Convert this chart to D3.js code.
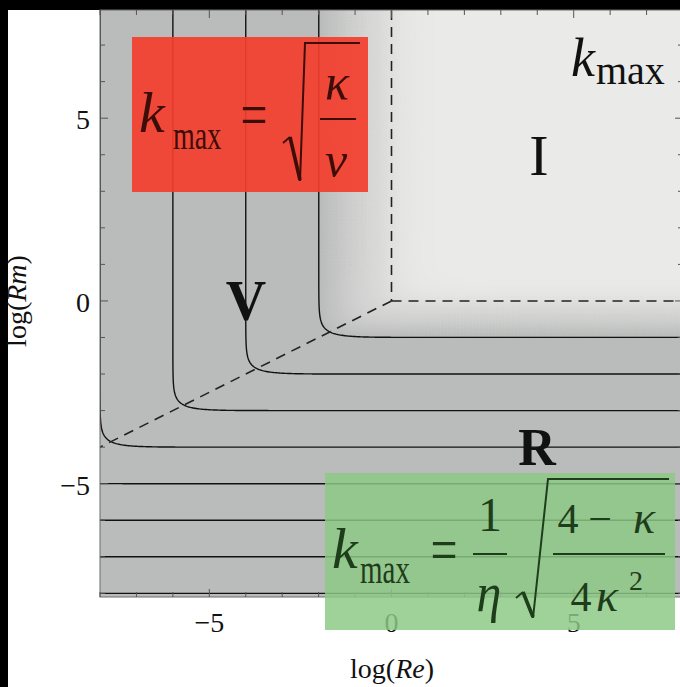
<!DOCTYPE html>
<html>
<head>
<meta charset="utf-8">
<script src="https://cdn.jsdelivr.net/npm/d3@7"></script>
<style>
  body { margin: 0; background: #fff; }
  svg { display: block; }
  text { font-family: "Liberation Serif", "Times New Roman", Times, serif; }
</style>
</head>
<body>
<script>
// Axis ranges (log10 of Reynolds and magnetic Reynolds numbers)
const logReDomain = [-8, 8];
const logRmDomain = [-8.1, 7.96];
const xTickValues = [-5, 0, 5];
const yTickValues = [-5, 0, 5];
const minorTickValuesX = d3.range(-8, 9);
const minorTickValuesY = d3.range(-8, 8);

// Contour levels of log10(k_max)
const contourLevels = [-1, -2, -3, -4, -5, -6, -7, -8];

// Shading of log10(k_max): stops and grey levels
const shadeStops = [-1.0, -0.76, -0.54, -0.25, -0.12, 0];
const shadeColors = ["#babcbb", "#c5c6c5", "#cfd0cf", "#dadad9", "#e2e2e0", "#eaeae8"];

// Regime boundaries: Re = 1, Rm = 1 and Rm^2 = Re
const boundaryLines = [
  { from: [0, 7.96], to: [0, 0] },
  { from: [0, 0], to: [8, 0] },
  { from: [0, 0], to: [-8, -4] }
];

const W = 680, H = 687;
const plot = { left: 100, right: 683, top: 10, bottom: 597 };

const x = d3.scaleLinear().domain(logReDomain).range([plot.left, plot.right]);
const y = d3.scaleLinear().domain(logRmDomain).range([plot.bottom, plot.top]);

// k_max across the three regimes: viscous (k ~ Re^1/2), resistive (k ~ Rm), ideal (k ~ 1)
function logK(lre, lrm) {
  return -0.5 * Math.log10(Math.pow(10, -lre) + Math.pow(10, -2 * lrm) + 1);
}

const svg = d3.select("body").append("svg").attr("width", W).attr("height", H);
svg.append("rect").attr("width", W).attr("height", H).attr("fill", "#fff");
svg.append("rect").attr("x", 0).attr("y", 0).attr("width", W).attr("height", 10).attr("fill", "#000");
svg.append("rect").attr("x", 0).attr("y", 0).attr("width", 8).attr("height", H).attr("fill", "#000");

svg.append("clipPath").attr("id", "plotClip")
  .append("rect")
  .attr("x", plot.left).attr("y", plot.top)
  .attr("width", plot.right - plot.left).attr("height", plot.bottom - plot.top);

// Sample the field on a grid wider than the plot so that contour edges fall outside the clip
const step = 0.04, g0 = -9.2, g1 = 9.2;
const n = Math.round((g1 - g0) / step) + 1;
const values = new Float64Array(n * n);
for (let j = 0; j < n; j++) {
  for (let i = 0; i < n; i++) {
    values[j * n + i] = logK(g0 + i * step, g0 + j * step);
  }
}
const toPixels = d3.geoTransform({
  point(px, py) {
    this.stream.point(x(g0 + (px - 0.5) * step), y(g0 + (py - 0.5) * step));
  }
});
const path = d3.geoPath(toPixels);

const shade = d3.scaleLinear().domain(shadeStops).range(shadeColors).clamp(true);
const fillThresholds = d3.range(-1.02, 0.001, 0.015);

const body = svg.append("g").attr("clip-path", "url(#plotClip)");
body.append("rect")
  .attr("x", plot.left).attr("y", plot.top)
  .attr("width", plot.right - plot.left).attr("height", plot.bottom - plot.top)
  .attr("fill", shadeColors[0]);

const bands = d3.contours().size([n, n]).thresholds(fillThresholds)(values);
body.append("g").selectAll("path").data(bands).join("path")
  .attr("d", path)
  .attr("fill", d => shade(d.value + 0.0075))
  .attr("stroke", d => shade(d.value + 0.0075))
  .attr("stroke-width", 0.6);

// Iso-lines of k_max
const isolines = d3.contours().size([n, n]).thresholds(contourLevels)(values);
body.append("g").selectAll("path").data(isolines).join("path")
  .attr("d", path)
  .attr("fill", "none")
  .attr("stroke", "#111")
  .attr("stroke-width", 1.4);

// Regime boundaries
body.append("g").selectAll("line").data(boundaryLines).join("line")
  .attr("x1", d => x(d.from[0])).attr("y1", d => y(d.from[1]))
  .attr("x2", d => x(d.to[0])).attr("y2", d => y(d.to[1]))
  .attr("stroke", "#222")
  .attr("stroke-width", 1.6)
  .attr("stroke-dasharray", "10,7");

// Frame and inward ticks
svg.append("rect")
  .attr("x", plot.left).attr("y", plot.top)
  .attr("width", plot.right - plot.left).attr("height", plot.bottom - plot.top)
  .attr("fill", "none").attr("stroke", "#6a6a6a").attr("stroke-width", 1);

const tickLen = v => (v % 5 === 0 ? 8 : 5);
const ticks = svg.append("g").attr("stroke", "#555").attr("stroke-width", 1);
ticks.selectAll(".tb").data(minorTickValuesX).join("line")
  .attr("x1", d => x(d)).attr("x2", d => x(d))
  .attr("y1", plot.bottom).attr("y2", d => plot.bottom - tickLen(d));
ticks.selectAll(".tt").data(minorTickValuesX).join("line")
  .attr("x1", d => x(d)).attr("x2", d => x(d))
  .attr("y1", plot.top).attr("y2", d => plot.top + tickLen(d));
ticks.selectAll(".tl").data(minorTickValuesY).join("line")
  .attr("y1", d => y(d)).attr("y2", d => y(d))
  .attr("x1", plot.left).attr("x2", d => plot.left + tickLen(d));
ticks.selectAll(".tr").data(minorTickValuesY).join("line")
  .attr("y1", d => y(d)).attr("y2", d => y(d))
  .attr("x1", plot.right).attr("x2", d => plot.right - tickLen(d));

const fmt = v => (v < 0 ? "\u2212" + Math.abs(v) : String(v));
svg.append("g").selectAll("text").data(yTickValues).join("text")
  .attr("x", 90).attr("y", d => y(d) + 11)
  .attr("text-anchor", "end").attr("font-size", 28).attr("fill", "#111")
  .text(fmt);
svg.append("g").selectAll("text").data(xTickValues).join("text")
  .attr("x", d => x(d)).attr("y", 632)
  .attr("text-anchor", "middle").attr("font-size", 28).attr("fill", "#111")
  .text(fmt);

// Axis titles
const xt = svg.append("text").attr("x", 392).attr("y", 678)
  .attr("text-anchor", "middle").attr("font-size", 28).attr("fill", "#111");
xt.append("tspan").text("log(");
xt.append("tspan").attr("font-style", "italic").text("Re");
xt.append("tspan").text(")");

const yt = svg.append("text").attr("transform", "translate(26,301) rotate(-90)")
  .attr("text-anchor", "middle").attr("font-size", 28).attr("fill", "#111");
yt.append("tspan").text("log(");
yt.append("tspan").attr("font-style", "italic").text("Rm");
yt.append("tspan").text(")");

// Regime labels
svg.append("text").attr("x", 539).attr("y", 175).attr("text-anchor", "middle")
  .attr("font-size", 58).attr("fill", "#111").text("I");
svg.append("text").attr("x", 246).attr("y", 320).attr("text-anchor", "middle")
  .attr("font-size", 56).attr("font-weight", "bold").attr("fill", "#111").text("V");
svg.append("text").attr("x", 537).attr("y", 465).attr("text-anchor", "middle")
  .attr("font-size", 52).attr("font-weight", "bold").attr("fill", "#111").text("R");

// Glyph placed at its baseline with an optional vertical stretch
function glyph(g, str, gx, gy, size, opts = {}) {
  const t = g.append("text")
    .attr("transform", `translate(${gx},${gy}) scale(1,${opts.sy || 1})`)
    .attr("font-size", size)
    .attr("fill", opts.fill || "#111")
    .attr("text-anchor", opts.anchor || "start");
  if (opts.italic) t.attr("font-style", "italic");
  t.text(str);
  return t;
}

const km = svg.append("g");
glyph(km, "k", 571, 76, 54, { italic: true });
glyph(km, "max", 596, 84, 40);

// Viscous-regime formula
const red = svg.append("g");
red.append("rect").attr("x", 132).attr("y", 37).attr("width", 236).attr("height", 155)
  .attr("fill", "#f43e2c").attr("opacity", 0.92);
const redInk = "#3d0d09";
glyph(red, "k", 139, 132, 58, { italic: true, fill: redInk });
glyph(red, "max", 173, 149, 28, { sy: 1.45, fill: redInk });
glyph(red, "=", 254, 136, 48, { sy: 1.3, anchor: "middle", fill: redInk });
red.append("path").attr("d", "M283,143 L290,137")
  .attr("fill", "none").attr("stroke", redInk).attr("stroke-width", 2);
red.append("path").attr("d", "M290,137 L300,180")
  .attr("fill", "none").attr("stroke", redInk).attr("stroke-width", 3.6);
red.append("path").attr("d", "M300,181 L305,43 L360,43")
  .attr("fill", "none").attr("stroke", redInk).attr("stroke-width", 2);
glyph(red, "\u03BA", 337, 99, 50, { italic: true, anchor: "middle", fill: redInk });
red.append("line").attr("x1", 320).attr("x2", 356).attr("y1", 119).attr("y2", 119)
  .attr("stroke", redInk).attr("stroke-width", 2.2);
glyph(red, "\u03BD", 336, 177, 50, { italic: true, anchor: "middle", fill: redInk });

// Resistive-regime formula
const green = svg.append("g");
green.append("rect").attr("x", 325).attr("y", 473).attr("width", 350).attr("height", 157)
  .attr("fill", "#8dc986").attr("opacity", 0.84);
const greenInk = "#1e3d1a";
glyph(green, "k", 332, 568, 58, { italic: true, fill: greenInk });
glyph(green, "max", 360, 583, 29, { sy: 1.45, fill: greenInk });
glyph(green, "=", 444, 571, 48, { sy: 1.3, anchor: "middle", fill: greenInk });
glyph(green, "1", 490, 531, 48, { anchor: "middle", fill: greenInk });
green.append("line").attr("x1", 473).attr("x2", 507).attr("y1", 554).attr("y2", 554)
  .attr("stroke", greenInk).attr("stroke-width", 2.2);
glyph(green, "\u03B7", 489, 611, 50, { italic: true, anchor: "middle", fill: greenInk, sy: 1.1 });
green.append("path").attr("d", "M516,598 L523,592")
  .attr("fill", "none").attr("stroke", greenInk).attr("stroke-width", 2);
green.append("path").attr("d", "M523,592 L533,617")
  .attr("fill", "none").attr("stroke", greenInk).attr("stroke-width", 3.6);
green.append("path").attr("d", "M533,618 L548,479 L669,479")
  .attr("fill", "none").attr("stroke", greenInk).attr("stroke-width", 2);
glyph(green, "4", 568, 533, 42, { anchor: "middle", fill: greenInk });
glyph(green, "\u2212", 600, 533, 42, { anchor: "middle", fill: greenInk });
glyph(green, "\u03BA", 644, 533, 46, { italic: true, anchor: "middle", fill: greenInk });
green.append("line").attr("x1", 553).attr("x2", 665).attr("y1", 554).attr("y2", 554)
  .attr("stroke", greenInk).attr("stroke-width", 2.2);
glyph(green, "4", 581, 611, 42, { anchor: "middle", fill: greenInk });
glyph(green, "\u03BA", 607, 611, 46, { italic: true, anchor: "middle", fill: greenInk });
glyph(green, "2", 636, 590, 28, { anchor: "middle", fill: greenInk });
</script>
</body>
</html>
